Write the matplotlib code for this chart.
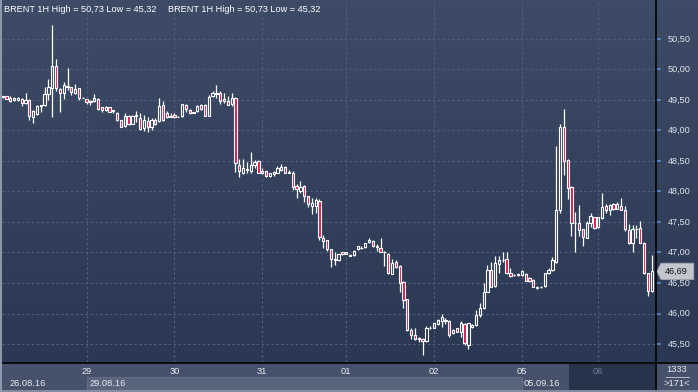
import numpy as np
import matplotlib

matplotlib.use("Agg")
import matplotlib.pyplot as plt  # noqa: E402
from matplotlib.patches import Polygon, Rectangle  # noqa: E402
from matplotlib.lines import Line2D  # noqa: E402

W, H = 698, 392

# BRENT 1H candles, 26.08.16 - 06.09.16
opens = [
    49.55, 49.56, 49.49, 49.54, 49.50, 49.51, 49.45, 49.50, 49.22, 49.27,
    49.40, 49.41, 49.60, 49.69, 50.06, 49.68, 49.61, 49.73, 49.71, 49.62,
    49.69, 49.54, 49.51, 49.46, 49.48, 49.51, 49.38, 49.33, 49.38, 49.32,
    49.28, 49.17, 49.07, 49.23, 49.11, 49.24, 49.20, 49.04, 49.16, 49.06,
    49.11, 49.15, 49.41, 49.28, 49.22, 49.26, 49.22, 49.23, 49.41, 49.34,
    49.29, 49.32, 49.41, 49.41, 49.24, 49.57, 49.60, 49.61, 49.48, 49.49,
    49.43, 49.53, 48.44, 48.31, 48.36, 48.34, 48.43, 48.50, 48.31, 48.33,
    48.25, 48.28, 48.31, 48.36, 48.40, 48.31, 48.31, 48.09, 48.00, 48.09,
    47.92, 47.76, 47.76, 47.85, 47.24, 47.20, 47.05, 46.88, 46.87, 47.00,
    46.98, 46.96, 46.96, 47.05, 47.07, 47.09, 47.17, 47.19, 47.10, 47.08,
    47.00, 46.97, 46.65, 46.85, 46.78, 46.52, 46.23, 45.73, 45.65, 45.59,
    45.59, 45.55, 45.76, 45.77, 45.82, 45.87, 45.89, 45.88, 45.68, 45.76,
    45.69, 45.83, 45.49, 45.78, 45.81, 45.98, 46.09, 46.36, 46.72, 46.45,
    46.81, 46.87, 46.89, 46.67, 46.63, 46.63, 46.63, 46.65, 46.58, 46.55,
    46.44, 46.43, 46.45, 46.66, 46.72, 46.85, 47.70, 49.05, 48.52, 48.08,
    47.49, 47.48, 47.38, 47.24, 47.48, 47.58, 47.41, 47.57, 47.76, 47.70,
    47.79, 47.72, 47.77, 47.70, 47.37, 47.16, 47.38, 47.40, 47.16, 46.66,
    46.37,
]
highs = [
    49.57, 49.57, 49.56, 49.55, 49.55, 49.54, 49.61, 49.51, 49.33, 49.42,
    49.42, 49.72, 49.84, 50.73, 50.17, 49.69, 49.80, 50.02, 49.72, 49.76,
    49.70, 49.55, 49.52, 49.50, 49.60, 49.54, 49.39, 49.40, 49.39, 49.34,
    49.30, 49.18, 49.28, 49.25, 49.25, 49.32, 49.28, 49.26, 49.22, 49.21,
    49.20, 49.53, 49.48, 49.32, 49.28, 49.28, 49.23, 49.44, 49.44, 49.35,
    49.31, 49.41, 49.43, 49.43, 49.58, 49.65, 49.75, 49.64, 49.62, 49.57,
    49.62, 49.55, 48.53, 48.53, 48.49, 48.64, 48.51, 48.51, 48.38, 48.34,
    48.31, 48.33, 48.42, 48.45, 48.42, 48.36, 48.33, 48.13, 48.17, 48.11,
    47.93, 47.89, 47.90, 47.87, 47.29, 47.21, 47.06, 47.01, 46.98, 47.01,
    47.01, 46.97, 47.04, 47.11, 47.10, 47.16, 47.23, 47.21, 47.14, 47.24,
    47.02, 46.99, 46.89, 46.87, 46.80, 46.53, 46.24, 45.76, 45.76, 45.62,
    45.60, 45.80, 45.79, 45.85, 45.91, 45.99, 45.92, 45.89, 45.74, 45.77,
    45.88, 45.85, 45.85, 45.82, 46.06, 46.18, 46.50, 46.80, 46.85, 46.94,
    46.94, 47.01, 47.01, 46.74, 46.65, 46.67, 46.72, 46.66, 46.60, 46.56,
    46.45, 46.45, 46.67, 46.75, 46.92, 48.75, 49.11, 49.36, 48.54, 48.09,
    47.67, 47.78, 47.39, 47.51, 47.65, 47.59, 47.59, 47.98, 47.79, 47.79,
    47.81, 47.82, 47.89, 47.77, 47.47, 47.45, 47.45, 47.52, 47.17, 46.67,
    46.96,
]
lows = [
    49.54, 49.51, 49.47, 49.49, 49.49, 49.40, 49.44, 49.17, 49.12, 49.25,
    49.30, 49.40, 49.50, 49.22, 49.65, 49.31, 49.51, 49.66, 49.58, 49.60,
    49.50, 49.54, 49.44, 49.42, 49.47, 49.34, 49.31, 49.32, 49.30, 49.29,
    49.16, 49.05, 49.05, 49.09, 49.10, 49.14, 49.01, 48.99, 48.97, 49.01,
    49.09, 49.14, 49.16, 49.21, 49.22, 49.21, 49.22, 49.22, 49.30, 49.27,
    49.28, 49.31, 49.34, 49.23, 49.23, 49.55, 49.54, 49.43, 49.45, 49.41,
    49.40, 48.32, 48.23, 48.29, 48.30, 48.31, 48.39, 48.30, 48.28, 48.24,
    48.24, 48.26, 48.30, 48.34, 48.30, 48.30, 48.02, 47.90, 47.98, 47.83,
    47.75, 47.63, 47.64, 47.20, 47.07, 47.03, 46.77, 46.80, 46.86, 46.96,
    46.97, 46.95, 46.95, 47.04, 47.05, 47.08, 47.16, 47.09, 47.03, 47.00,
    46.78, 46.64, 46.64, 46.75, 46.36, 46.09, 45.72, 45.59, 45.57, 45.54,
    45.32, 45.54, 45.74, 45.76, 45.81, 45.78, 45.83, 45.62, 45.67, 45.69,
    45.62, 45.48, 45.41, 45.77, 45.80, 45.95, 46.07, 46.35, 46.43, 46.44,
    46.66, 46.85, 46.65, 46.60, 46.61, 46.62, 46.62, 46.53, 46.51, 46.43,
    46.40, 46.42, 46.44, 46.65, 46.70, 46.82, 47.65, 48.27, 47.87, 47.27,
    47.00, 47.27, 47.10, 47.23, 47.42, 47.39, 47.40, 47.55, 47.64, 47.62,
    47.70, 47.71, 47.69, 47.35, 47.14, 47.01, 47.24, 47.15, 46.65, 46.29,
    46.36,
]
closes = [
    49.56, 49.52, 49.54, 49.50, 49.54, 49.45, 49.50, 49.23, 49.32, 49.40,
    49.41, 49.60, 49.72, 50.05, 49.69, 49.61, 49.74, 49.72, 49.63, 49.68,
    49.54, 49.54, 49.46, 49.48, 49.54, 49.36, 49.33, 49.38, 49.31, 49.33,
    49.17, 49.06, 49.23, 49.10, 49.24, 49.26, 49.02, 49.18, 49.06, 49.17,
    49.18, 49.40, 49.18, 49.22, 49.24, 49.22, 49.22, 49.43, 49.35, 49.28,
    49.30, 49.40, 49.35, 49.24, 49.55, 49.62, 49.61, 49.49, 49.51, 49.42,
    49.54, 48.46, 48.33, 48.38, 48.37, 48.43, 48.49, 48.31, 48.34, 48.25,
    48.30, 48.32, 48.38, 48.40, 48.31, 48.32, 48.08, 48.04, 48.08, 47.92,
    47.80, 47.81, 47.86, 47.25, 47.19, 47.05, 46.90, 46.89, 46.97, 46.98,
    47.00, 46.95, 47.03, 47.10, 47.08, 47.15, 47.21, 47.10, 47.09, 47.01,
    47.01, 46.66, 46.82, 46.76, 46.50, 46.22, 45.73, 45.65, 45.58, 45.60,
    45.55, 45.77, 45.77, 45.84, 45.89, 45.94, 45.88, 45.65, 45.73, 45.70,
    45.85, 45.52, 45.84, 45.81, 45.97, 46.09, 46.36, 46.71, 46.44, 46.82,
    46.88, 46.88, 46.66, 46.62, 46.63, 46.64, 46.69, 46.54, 46.53, 46.44,
    46.42, 46.44, 46.66, 46.72, 46.87, 47.70, 49.05, 48.50, 48.06, 47.49,
    47.48, 47.37, 47.25, 47.48, 47.60, 47.40, 47.58, 47.74, 47.69, 47.78,
    47.71, 47.80, 47.70, 47.38, 47.16, 47.38, 47.39, 47.16, 46.66, 46.37,
    46.69,
]

day_labels = ["29", "30", "31", "01", "02", "05", "06"]
day_starts = [22, 45, 68, 90, 113, 136, 156]
price_ticks = [45.5, 46.0, 46.5, 47.0, 47.5, 48.0, 48.5, 49.0, 49.5, 50.0, 50.5]
period_start, period_sel_start, period_sel_end = "26.08.16", "29.08.16", "05.09.16"
last_price = 46.69
high_low_text = "BRENT 1H High = 50,73 Low = 45,32"
bars_total, bars_shown = 1333, 171

FONT = "Liberation Sans"
RED = "#e3174c"
GRID = "#515d7a"
BG_TOP, BG_BOT = np.array([62, 75, 103]) / 255, np.array([43, 56, 83]) / 255
PANEL = "#46526b"

# candle i sits at x = X0 + DX * i pixels
X0, DX = 2.6, 3.818
YLIM = (45.205, 51.139)


def box(x0, y0, x1, y1):
    return [x0 / W, 1 - y1 / H, (x1 - x0) / W, (y1 - y0) / H]


def comma(v):
    return f"{v:.2f}".replace(".", ",")


fig = plt.figure(figsize=(W / 100, H / 100), dpi=100)
fig.patch.set_facecolor(PANEL)

# gradient background for chart + price scale
bg = fig.add_axes(box(0, 0, W, 362))
grad = np.linspace(0, 1, 256)[:, None, None]
bg.imshow(BG_TOP * (1 - grad) + BG_BOT * grad, aspect="auto",
          extent=(0, 1, 0, 1), origin="upper")
bg.set_axis_off()

ax = fig.add_axes(box(2, 0, 655, 362))
ax.set_facecolor("none")
ax.set_xlim((2 - X0) / DX, (655 - X0) / DX)
ax.set_ylim(*YLIM)
for p in price_ticks:
    ax.axhline(p, color=GRID, lw=0.8, ls=(0, (2.2, 2.2)), zorder=1)
for d in day_starts:
    ax.axvline(d, color=GRID, lw=0.8, ls=(0, (2.2, 2.2)), zorder=1)

o, h, l, c = map(np.array, (opens, highs, lows, closes))
x = np.arange(len(o))
top, bot = np.maximum(o, c), np.minimum(o, c)
ax.vlines(x, top, h, color="white", lw=0.9, zorder=2)
ax.vlines(x, l, bot, color="white", lw=0.9, zorder=2)
down = c < o
ax.bar(x, top - bot, bottom=bot, width=0.6,
       color=np.where(down, RED, "none"), edgecolor="white", lw=0.8, zorder=3)
for s in ax.spines.values():
    s.set_visible(False)
ax.set_xticks([])
ax.set_yticks([])

fig.text(4 / W, 1 - 9 / H, high_low_text, color="white", fontsize=6.6,
         family=FONT, va="center")
fig.text(168 / W, 1 - 9 / H, high_low_text, color="white", fontsize=6.6,
         family=FONT, va="center")

# price scale
rax = fig.add_axes(box(656, 0, W, 362))
rax.set_facecolor("none")
rax.set_xlim(0, 1)
rax.set_ylim(*YLIM)
rax.set_axis_off()
for p in price_ticks:
    rax.plot([0.0, 0.09], [p, p], color="#4f8fd8", lw=1.2)
    rax.text(0.27, p, comma(p), color="#dde2ea", fontsize=6.6, family=FONT,
             va="center", ha="left")
hh = 0.135
rax.add_patch(Polygon([[0.02, last_price], [0.12, last_price + hh],
                       [0.9, last_price + hh], [0.9, last_price - hh],
                       [0.12, last_price - hh]], closed=True,
                      facecolor="#c3c6cc", edgecolor="#9ea2aa", lw=0.6, zorder=4))
rax.text(0.22, last_price, comma(last_price), color="#111111", fontsize=6.6,
         family=FONT, va="center", ha="left", zorder=5)

# time scale
bax = fig.add_axes(box(2, 363, 655, 392))
bax.set_facecolor(PANEL)
bax.set_xlim(ax.get_xlim())
bax.set_ylim(0, 1)
bax.set_axis_off()
bax.add_patch(Rectangle((day_starts[0], 0.08), day_starts[5] - day_starts[0], 0.44,
                        facecolor="#58647c", edgecolor="#6b768c", lw=0.5))
bax.add_patch(Rectangle((0.868, 0.08), 0.132, 0.87, transform=bax.transAxes,
                        facecolor="#27324b", edgecolor="none"))
for d, lab in zip(day_starts, day_labels):
    col = "#6f7c98" if lab == day_labels[-1] else "#e8ebf0"
    bax.text(d, 0.71, lab, color=col, fontsize=6.7, family=FONT,
             ha="center", va="center")
bax.text(0.012, 0.31, period_start, transform=bax.transAxes, color="#e8ebf0",
         fontsize=6.7, family=FONT, va="center")
bax.text(day_starts[0] + 0.8, 0.31, period_sel_start, color="#e8ebf0",
         fontsize=6.7, family=FONT, va="center")
bax.text(day_starts[5] + 0.5, 0.31, period_sel_end, color="#e8ebf0",
         fontsize=6.7, family=FONT, va="center")

fig.text(677 / W, 1 - 369 / H, str(bars_total), color="#e8ebf0", fontsize=6.7,
         family=FONT, ha="center", va="center")
fig.text(677 / W, 1 - 384 / H, f">{bars_shown}<", color="#e8ebf0", fontsize=6.7,
         family=FONT, ha="center", va="center")
fig.add_artist(Line2D([666 / W, 689 / W], [1 - 377 / H] * 2, color="#c8cdd6", lw=0.6))

# separators and frame
fig.add_artist(Line2D([0, 1], [1 - 362.5 / H] * 2, color="black", lw=1.2))
fig.add_artist(Line2D([655.5 / W] * 2, [0, 1], color="black", lw=1.2))
fig.add_artist(Line2D([0.8 / W] * 2, [0, 1], color="#8d97ab", lw=1.5))
fig.add_artist(Line2D([0, 1], [0.8 / H] * 2, color="#8d97ab", lw=1.2))

fig.savefig("out.png", dpi=100, facecolor=fig.get_facecolor())
